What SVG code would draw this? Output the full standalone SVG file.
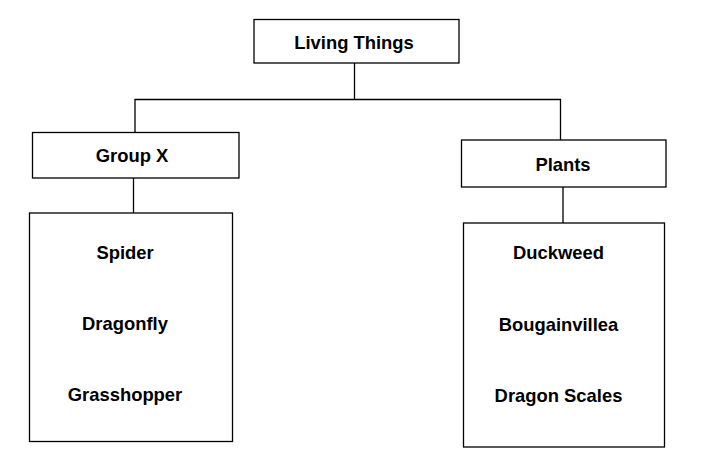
<svg xmlns="http://www.w3.org/2000/svg" width="706" height="459" viewBox="0 0 706 459">
<style>
.box{fill:#fff;stroke:#000;stroke-width:1.3}
.ln{fill:none;stroke:#000;stroke-width:1.3}
text{font-family:"Liberation Sans",Arial,sans-serif;font-weight:bold;font-size:18.4px;text-anchor:middle;fill:#000}
</style>
<rect width="706" height="459" fill="#fff"/>
<g id="connectors">
<path class="ln" d="M354.5,63 V99.5 M135,132.5 V99.5 H560.5 V140 M133.5,178 V213 M563,187 V223"/>
</g>
<g id="living-things">
<rect class="box" x="254" y="19.5" width="205" height="43.5"/>
<text x="354" y="48.5">Living Things</text>
</g>
<g id="group-x">
<rect class="box" x="32.5" y="132.5" width="206.5" height="45.5"/>
<text x="132" y="161.5">Group X</text>
</g>
<g id="plants">
<rect class="box" x="461.5" y="140" width="204.5" height="47"/>
<text x="563" y="170.5">Plants</text>
</g>
<g id="group-x-list">
<rect class="box" x="29.5" y="213" width="203" height="228.5"/>
<text x="125" y="258.5">Spider</text>
<text x="125" y="329.5">Dragonfly</text>
<text x="125" y="401">Grasshopper</text>
</g>
<g id="plants-list">
<rect class="box" x="463.5" y="223" width="201" height="224"/>
<text x="558.5" y="259">Duckweed</text>
<text x="558.5" y="330.5">Bougainvillea</text>
<text x="558.5" y="402">Dragon Scales</text>
</g>
</svg>
